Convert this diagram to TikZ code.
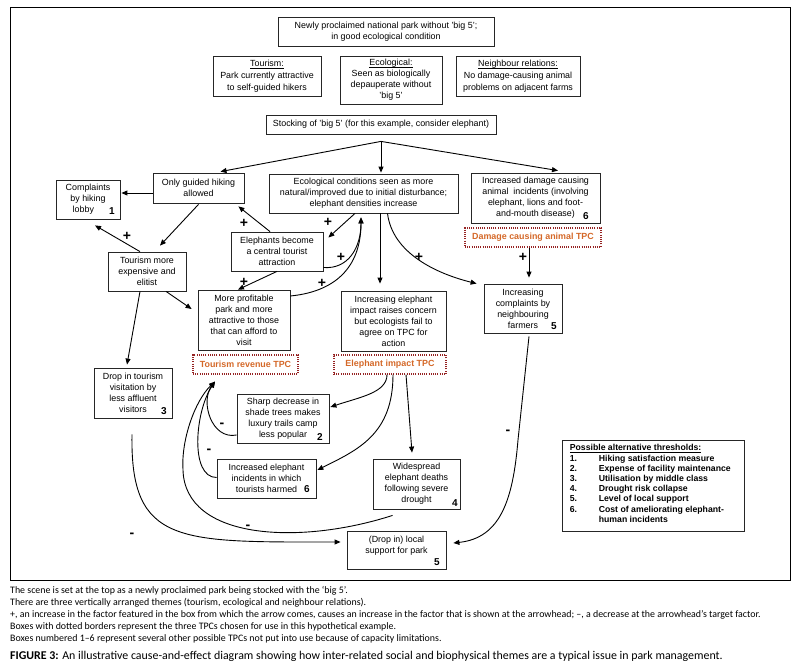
\documentclass[tikz,border=0pt]{standalone}
\usepackage{fontspec}
\setmainfont{Liberation Sans}
\newfontfamily\capfont{Carlito}
\usetikzlibrary{arrows.meta,calc}
\definecolor{tpcred}{RGB}{150,35,35}
\definecolor{tpcorange}{RGB}{212,104,40}
\newcommand\ulx[1]{\setbox0\hbox{#1}\rlap{\rule[-1.7pt]{\wd0}{0.5pt}}\box0}
\begin{document}
\begin{tikzpicture}[x=1pt,y=-1pt,
  box/.style={draw=black!85,line width=0.8pt,align=center,inner sep=0pt,font=\fontsize{8.9}{11}\selectfont},
  tpc/.style={draw=tpcred,line width=1.2pt,dash pattern=on 1pt off 1.2pt,align=center,inner sep=0pt,text=tpcorange,font=\fontsize{8.9}{11}\selectfont\bfseries},
  arr/.style={line width=0.9pt,-{Triangle[length=6pt,width=5pt]}},
  sign/.style={font=\fontsize{14}{14}\selectfont\bfseries,inner sep=0pt},
  num/.style={font=\fontsize{10}{10}\selectfont\bfseries,inner sep=0pt},
]
\useasboundingbox (0,0) rectangle (801,669);
\draw[line width=1pt] (10,8) rectangle (790,580);

% top
\node[box,minimum width=216pt,minimum height=29pt] (top) at (386,31.5) {Newly proclaimed national park without 'big 5';\\in good ecological condition};
\node[box,minimum width=108pt,minimum height=40pt,font=\fontsize{8.9}{11.8}\selectfont] (tour) at (267,76) {\ulx{Tourism:}\\Park currently attractive\\to self-guided hikers};
\node[box,minimum width=102pt,minimum height=48pt] (eco) at (391,80) {\ulx{Ecological:}\\Seen as biologically\\depauperate without\\'big 5'};
\node[box,minimum width=124pt,minimum height=40pt,font=\fontsize{8.9}{11.8}\selectfont] (neigh) at (518,76) {\ulx{Neighbour relations:}\\No damage-causing animal\\problems on adjacent farms};
\node[box,minimum width=230pt,minimum height=19pt] (stock) at (381,124.5) {Stocking of 'big 5' (for this example, consider elephant)};

% row 2
\node[box,minimum width=91pt,minimum height=30pt] (guided) at (198.5,188) {Only guided hiking\\allowed};
\node[box,minimum width=64pt,minimum height=39pt] (compl) at (88,199.5) {Complaints\\by hiking\\lobby\phantom{11}};
\node[box,minimum width=189pt,minimum height=39pt] (ecocond) at (363.5,193.5) {Ecological conditions seen as more\\natural/improved due to initial disturbance;\\elephant densities increase};
\node[box,minimum width=129pt,minimum height=50pt] (damage) at (535.5,198) {Increased damage causing\\animal\ \ incidents (involving\\elephant, lions and foot-\\and-mouth disease)};
\node[tpc,minimum width=136pt,minimum height=19pt] (dmgTPC) at (533,237.5) {Damage causing animal TPC};

% row 3
\node[box,minimum width=92pt,minimum height=39pt] (eleph) at (277,251.5) {Elephants become\\a central tourist\\attraction};
\node[box,minimum width=78pt,minimum height=39pt] (tourexp) at (147,271.5) {Tourism more\\expensive and\\elitist};
\node[box,minimum width=92pt,minimum height=60pt] (profit) at (244,320) {More profitable\\park and more\\attractive to those\\that can afford to\\visit};
\node[box,minimum width=105pt,minimum height=60pt] (impact) at (393.5,321) {Increasing elephant\\impact raises concern\\but ecologists fail to\\agree on TPC for\\action};
\node[box,minimum width=78pt,minimum height=49pt] (nbcompl) at (523,308.5) {Increasing\\complaints by\\neighbouring\\farmers};
\node[tpc,minimum width=105pt,minimum height=19pt] (revTPC) at (245.5,364.5) {Tourism revenue TPC};
\node[tpc,minimum width=112pt,minimum height=19pt] (impTPC) at (390,364.5) {Elephant impact TPC};

% lower
\node[box,minimum width=78pt,minimum height=50pt] (drop) at (133,393) {Drop in tourism\\visitation by\\less affluent\\visitors};
\node[box,minimum width=92pt,minimum height=49pt] (shade) at (283,418.5) {Sharp decrease in\\shade trees makes\\luxury trails camp\\less popular};
\node[box,minimum width=99pt,minimum height=39pt] (incid) at (266.5,478.5) {Increased elephant\\incidents in which\\tourists harmed};
\node[box,minimum width=87pt,minimum height=50pt] (widesp) at (416.5,484) {Widespread\\elephant deaths\\following severe\\drought};
\node[box,minimum width=99pt,minimum height=38pt] (local) at (396.5,550) {(Drop in) local\\support for park\\\mbox{}};

% numbers
\node[num] (n1) at (112,211) {1};
\node[num] (n6a) at (586,216) {6};
\node[num] (n5a) at (554,326) {5};
\node[num] (n3) at (164,411) {3};
\node[num] (n2) at (320,437) {2};
\node[num] (n6b) at (307,489) {6};
\node[num] (n4) at (455,503) {4};
\node[num] (n5b) at (437,562) {5};

% legend
\node[draw=black!85,line width=0.8pt,minimum width=182pt,minimum height=91pt,inner sep=0pt] (legend) at (653,485.5) {};
\node[anchor=north west,inner sep=0pt,font=\fontsize{8.7}{10.2}\selectfont\bfseries] (legtext) at ($(legend.north west)+(8,4)$) {%
\begin{tabular}{@{}p{29pt}@{}l@{}}
\multicolumn{2}{@{}l@{}}{\ulx{Possible alternative thresholds:}}\\
1.&Hiking satisfaction measure\\
2.&Expense of facility maintenance\\
3.&Utilisation by middle class\\
4.&Drought risk collapse\\
5.&Level of local support\\
6.&Cost of ameliorating elephant-\\
 &human incidents
\end{tabular}};

% arrows from stocking
\coordinate (fork) at ($(stock.south)+(0,7)$);
\draw[arr] (fork) -- ($(guided.north)+(22,-1)$);
\draw[arr] (fork) -- ($(ecocond.north)+(17.5,-1)$);
\draw[arr] (fork) -- ($(damage.north)+(22.5,-2)$);

% tourism side
\draw[arr] ($(guided.west)+(0,5)$) -- ($(compl.east)+(1,-6.5)$);
\draw[arr] ($(guided.south)+(0,1)$) -- ($(tourexp.north)+(13,-6)$);
\draw[arr] ($(tourexp.north)+(-7,0)$) -- ($(compl.south)+(7,6)$);
\draw[arr] ($(tourexp.south)+(19,0)$) -- ($(profit.west)+(-6,-11)$);
\draw[arr] ($(tourexp.south)+(-7,0)$) -- ($(drop.north)+(-6,-3)$);
\draw[arr] ($(eleph.north)+(-7,0)$) -- ($(guided.south east)+(-6,3)$);
\draw[arr] (eleph.south) -- ($(profit.north)+(-6,0)$);
\draw[arr] ($(ecocond.south)+(-8.5,0)$) -- ($(eleph.east)+(5,-14)$);
\coordinate (ecotip) at ($(ecocond.south)+(-2.5,4)$);
\draw[arr] ($(eleph.east)+(0,16)$) .. controls +(25,2) and +(0,30) .. (ecotip);
\draw[arr] ($(profit.east)+(0,-24)$) .. controls +(50,-5) and +(0,45) .. (ecotip);
\draw[arr] ($(ecocond.south)+(16.5,0)$) -- ($(impact.north)+(-13.5,-7)$);
\draw[arr] ($(ecocond.south)+(24,0)$) .. controls +(5,40) and +(-40,-10) .. ($(nbcompl.north west)+(-7,0)$);
\draw[arr] ($(dmgTPC.south)+(-4,0)$) -- ($(nbcompl.north)+(6,-6)$);

% elephant impact TPC
\draw[arr] ($(impTPC.south)+(-3,0)$) .. controls +(0,18) and +(30,-10) .. ($(shade.east)+(1,-11.5)$);
\draw[arr] ($(impTPC.south)+(3,0)$) .. controls +(0,60) and +(40,-20) .. ($(incid.east)+(1,-8.5)$);
\draw[arr] ($(impTPC.south)+(16,0)$) -- ($(widesp.north)+(-4.5,-6)$);

% back to tourism revenue
\coordinate (revtip) at ($(revTPC.south)+(-30.5,7)$);
\coordinate (bendA) at (183,470);
\draw[arr] ($(shade.west)+(0,16.5)$) .. controls +(-25,5) and +(-15,20) .. (revtip);
\draw[arr] ($(incid.west)+(0,-1)$) .. controls +(-27,0) and +(-20,30) .. (revtip);
\draw[arr] ($(widesp.south west)+(20,6)$) .. controls +(-93,30) and +(2,70) .. (bendA) .. controls +(-2,-30) and +(-20,19) .. (revtip);

% to local support
\draw[arr] ($(drop.south)+(-1,16)$) .. controls +(-2,111) and +(-161,0) .. ($(local.west)+(-6,-8)$);
\coordinate (bendB) at (518,440);
\draw[arr] ($(nbcompl.south)+(6,3)$) -- (bendB) .. controls +(-5,60) and +(47,-5) .. ($(local.east)+(7,-7)$);

% signs
\node[sign] (p1) at (127,236) {+};
\node[sign] (p2) at (244,223) {+};
\node[sign] (p3) at (244,282) {+};
\node[sign] (p4) at (328,222) {+};
\node[sign] (p5) at (341,257) {+};
\node[sign] (p6) at (322,283) {+};
\node[sign] (p7) at (419,257) {+};
\node[sign] (p8) at (523,257) {+};
\node[sign] (m1) at (222,425) {-};
\node[sign] (m2) at (209,451) {-};
\node[sign] (m3) at (248,527) {-};
\node[sign] (m4) at (132,535) {-};
\node[sign] (m5) at (508,432) {-};

% caption
\node[anchor=north west,inner sep=0pt,align=left,font=\capfont\fontsize{9.9}{12}\selectfont] (notes) at (10,586) {The scene is set at the top as a newly proclaimed park being stocked with the ‘big 5’.\\
There are three vertically arranged themes (tourism, ecological and neighbour relations).\\
+, an increase in the factor featured in the box from which the arrow comes, causes an increase in the factor that is shown at the arrowhead; –, a decrease at the arrowhead’s target factor.\\
Boxes with dotted borders represent the three TPCs chosen for use in this hypothetical example.\\
Boxes numbered 1–6 represent several other possible TPCs not put into use because of capacity limitations.};
\node[anchor=west,inner sep=0pt,font=\capfont\fontsize{11.9}{13}\selectfont] (fig) at (10,656) {\textbf{FIGURE 3:} An illustrative cause-and-effect diagram showing how inter-related social and biophysical themes are a typical issue in park management.};
\end{tikzpicture}
\end{document}
